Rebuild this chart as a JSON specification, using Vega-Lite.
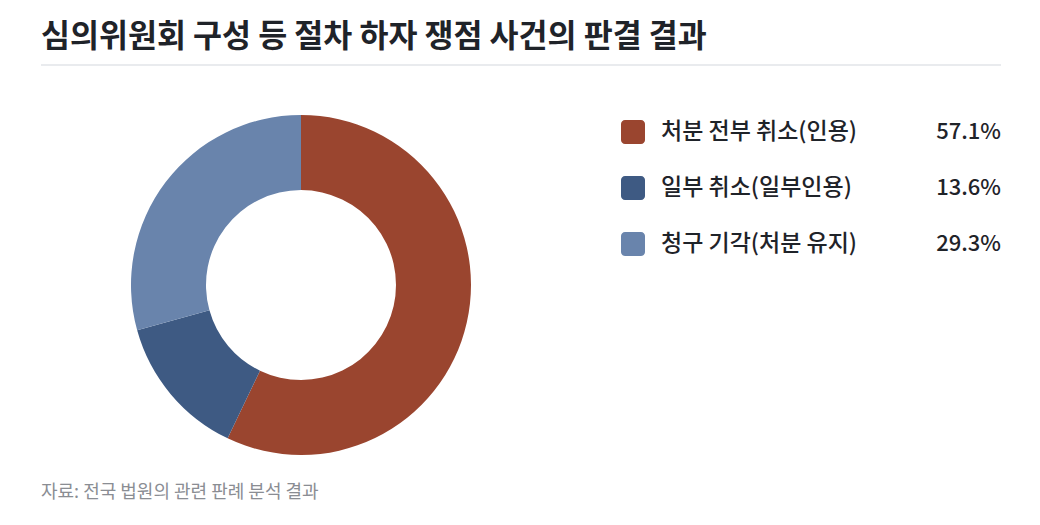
{
  "$schema": "https://vega.github.io/schema/vega-lite/v6.json",
  "description": "Donut chart of court rulings on procedural defect cases",
  "padding": {"left": 40, "top": 21, "right": 40, "bottom": 10},
  "title": {
    "text": "심의위원회 구성 등 절차 하자 쟁점 사건의 판결 결과",
    "anchor": "start",
    "frame": "group",
    "font": "Noto Sans CJK KR",
    "fontSize": 31.5,
    "fontWeight": "bold",
    "color": "#1f2329",
    "offset": 11
  },
  "config": {
    "view": {"stroke": null},
    "font": "Noto Sans CJK KR"
  },
  "datasets": {
    "results": [
      {"category": "처분 전부 취소(인용)", "share": 0.571, "order": 1},
      {"category": "일부 취소(일부인용)", "share": 0.136, "order": 2},
      {"category": "청구 기각(처분 유지)", "share": 0.293, "order": 3}
    ]
  },
  "spacing": 34,
  "vconcat": [
    {
      "width": 960,
      "height": 1,
      "data": {"values": [{}]},
      "mark": {"type": "rule", "color": "#e2e4e8", "strokeWidth": 1.5},
      "encoding": {
        "x": {"value": 0},
        "x2": {"value": "width"},
        "y": {"value": 0}
      }
    },
    {
      "spacing": 40,
      "hconcat": [
        {
          "width": 520,
          "height": 370,
          "data": {"name": "results"},
          "title": {
            "text": "자료: 전국 법원의 관련 판례 분석 결과",
            "orient": "bottom",
            "anchor": "start",
            "fontSize": 18,
            "fontWeight": "normal",
            "color": "#8a8d93",
            "offset": 14
          },
          "mark": {"type": "arc", "innerRadius": 95, "outerRadius": 170},
          "encoding": {
            "theta": {"field": "share", "type": "quantitative", "stack": true},
            "order": {"field": "order", "type": "quantitative"},
            "color": {
              "field": "category",
              "type": "nominal",
              "sort": ["처분 전부 취소(인용)", "일부 취소(일부인용)", "청구 기각(처분 유지)"],
              "scale": {"range": ["#9a452f", "#3e5a83", "#6984ac"]},
              "legend": null
            },
            "tooltip": [
              {"field": "category", "type": "nominal"},
              {"field": "share", "type": "quantitative", "format": ".1%"}
            ]
          }
        },
        {
          "width": 400,
          "height": 176,
          "data": {"name": "results"},
          "encoding": {
            "y": {
              "field": "category",
              "type": "nominal",
              "sort": {"field": "order"},
              "scale": {"paddingInner": 0, "paddingOuter": 0.0714},
              "axis": null
            }
          },
          "layer": [
            {
              "mark": {"type": "rect", "height": 24, "cornerRadius": 4},
              "encoding": {
                "x": {"value": 20},
                "x2": {"value": 44},
                "color": {
                  "field": "category",
                  "type": "nominal",
                  "sort": ["처분 전부 취소(인용)", "일부 취소(일부인용)", "청구 기각(처분 유지)"],
                  "scale": {"range": ["#9a452f", "#3e5a83", "#6984ac"]},
                  "legend": null
                }
              }
            },
            {
              "mark": {"type": "text", "align": "left", "baseline": "middle", "fontSize": 23, "fontWeight": 500, "color": "#1f2329"},
              "encoding": {
                "x": {"value": 60},
                "text": {"field": "category"}
              }
            },
            {
              "mark": {"type": "text", "align": "right", "baseline": "middle", "fontSize": 22, "fontWeight": 500, "color": "#1f2329"},
              "encoding": {
                "x": {"value": "width"},
                "text": {"field": "share", "type": "quantitative", "format": ".1%"}
              }
            }
          ]
        }
      ]
    }
  ]
}
